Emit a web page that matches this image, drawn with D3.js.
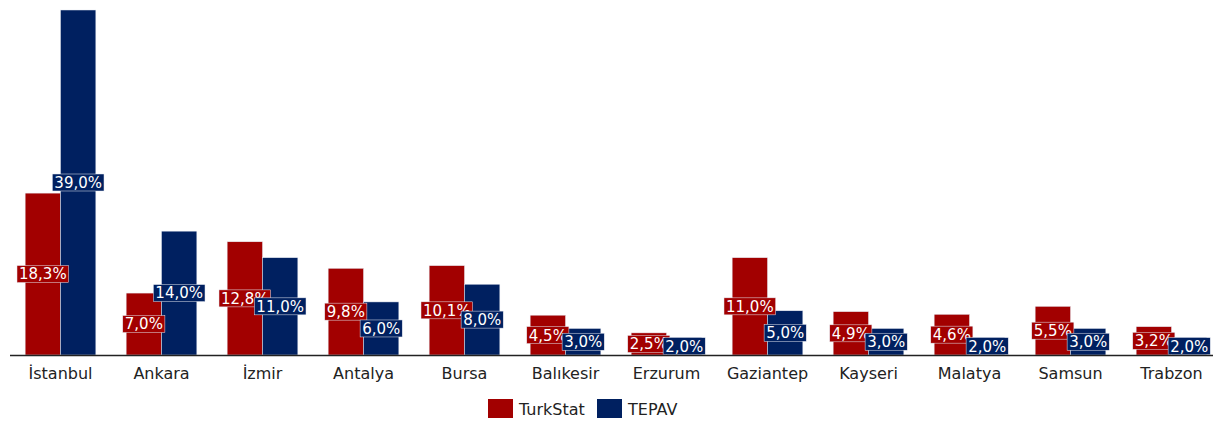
<!DOCTYPE html>
<html><head><meta charset="utf-8">
<script src="https://cdn.jsdelivr.net/npm/d3@7"></script>
<style>body{margin:0;background:#fff;} svg{display:block;font-family:"DejaVu Sans",sans-serif;}</style>
</head><body>
<svg id="chart" width="1215" height="421"></svg>
<script>
const categories = ["İstanbul","Ankara","İzmir","Antalya","Bursa","Balıkesir","Erzurum","Gaziantep","Kayseri","Malatya","Samsun","Trabzon"];
const turkstat = [18.3,7.0,12.8,9.8,10.1,4.5,2.5,11.0,4.9,4.6,5.5,3.2];
const tepav = [39.0,14.0,11.0,6.0,8.0,3.0,2.0,5.0,3.0,2.0,3.0,2.0];
const seriesNames = ["TurkStat","TEPAV"];
const colors = ["#A20000","#002060"];

const svg = d3.select("#chart");
const x = d3.scaleBand().domain(categories).range([10,1222]).paddingInner(0.3).paddingOuter(0.15);
const x1 = d3.scaleBand().domain(seriesNames).range([0,x.bandwidth()]);
const y = d3.scaleLinear().domain([0,39]).range([355,10]);
const fmt = v => v.toFixed(1).replace(".", ",") + "%";

const series = [turkstat, tepav];
// bars
series.forEach((vals,si)=>{
  svg.append("g").selectAll("rect").data(vals).join("rect")
    .attr("x",(d,i)=>x(categories[i])+x1(seriesNames[si]))
    .attr("y",d=>y(d))
    .attr("width",x1.bandwidth())
    .attr("height",d=>y(0)-y(d))
    .attr("fill",colors[si])
    .attr("stroke","#e6eaf2").attr("stroke-width",0.5);
});
// labels
series.forEach((vals,si)=>{
  const g = svg.append("g").selectAll("g").data(vals).join("g")
    .attr("transform",(d,i)=>`translate(${x(categories[i])+x1(seriesNames[si])+x1.bandwidth()/2},${(y(d)+y(0))/2})`);
  const t = g.append("text").text(d=>fmt(d))
    .attr("text-anchor","middle").attr("dy","0.36em")
    .attr("font-size",15).attr("fill","#fff");
  t.each(function(){
    const bb = this.getBBox();
    d3.select(this.parentNode).insert("rect","text")
      .attr("x",bb.x-2).attr("y",-8.5).attr("width",bb.width+4).attr("height",17)
      .attr("fill",colors[si]).attr("stroke","#e6eaf2").attr("stroke-width",0.5);
  });
});
// axis
const ax = svg.append("g").attr("transform",`translate(0,${y(0)})`)
  .call(d3.axisBottom(x).tickSize(0).tickPadding(13));
ax.select(".domain").attr("d","M10,0.5H1213").attr("stroke","#222").attr("stroke-width",1.3);
ax.selectAll("text").attr("font-size",16).attr("fill","#222").attr("font-family","DejaVu Sans, sans-serif");

// legend
const leg = svg.append("g");
const items = [{n:"TurkStat",c:colors[0],x:488},{n:"TEPAV",c:colors[1],x:597}];
items.forEach(it=>{
  leg.append("rect").attr("x",it.x).attr("y",399).attr("width",25).attr("height",19).attr("fill",it.c);
  leg.append("text").attr("x",it.x+31).attr("y",415).text(it.n).attr("font-size",16).attr("fill","#222");
});
</script>
</body></html>
